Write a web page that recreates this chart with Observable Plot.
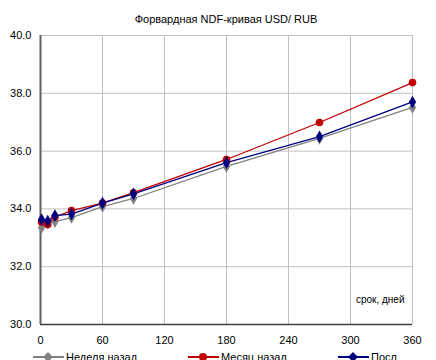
<!DOCTYPE html>
<html>
<head>
<meta charset="utf-8">
<script src="https://cdn.jsdelivr.net/npm/d3@7"></script>
<script src="https://cdn.jsdelivr.net/npm/@observablehq/plot@0.6"></script>
<style>
  html, body { margin: 0; padding: 0; background: #fff; overflow: hidden; }
  body { width: 436px; height: 360px; position: relative; font-family: "Liberation Sans", Arial, sans-serif; }
  #title { position: absolute; left: 40px; width: 372px; top: 13px; text-align: center; font-size: 11px; color: #000; }
  #chart { position: absolute; left: 0; top: 28px; }
  .leg { position: absolute; top: 350px; height: 14px; font-size: 11px; color: #000; display: flex; align-items: center; white-space: nowrap; }
  .leg svg { margin-right: 2px; }
</style>
</head>
<body>
<div id="title">Форвардная NDF-кривая USD/ RUB</div>
<div id="chart"></div>
<div id="legend"></div>
<script>
// Forward NDF curve USD/RUB: term in days vs forward rate
const days = [1, 7, 14, 30, 60, 90, 180, 270, 360];
const weekAgo  = [33.36, 33.50, 33.56, 33.70, 34.08, 34.36, 35.47, 36.44, 37.51];
const monthAgo = [33.55, 33.46, 33.72, 33.94, 34.20, 34.56, 35.71, 36.99, 38.37];
const latest   = [33.63, 33.58, 33.77, 33.82, 34.20, 34.52, 35.60, 36.50, 37.70];
const seriesNames = ["Неделя назад", "Месяц назад", "Посл"];
const seriesColors = ["#808080", "#c00000", "#000080"];
const seriesSymbols = ["diamond", "circle", "diamond"];
const xTicks = [0, 60, 120, 180, 240, 300, 360];
const yTicks = [30, 32, 34, 36, 38, 40];
const xLabel = "срок, дней";

const rows = [];
[weekAgo, monthAgo, latest].forEach((vals, i) => {
  vals.forEach((v, j) => rows.push({series: seriesNames[i], day: days[j], rate: v}));
});

const chart = Plot.plot({
  width: 436,
  height: 322,
  marginTop: 7,
  marginLeft: 40,
  marginRight: 24,
  marginBottom: 26,
  style: {fontFamily: "'Liberation Sans', Arial, sans-serif", fontSize: "11px", color: "#000"},
  x: {domain: [0, 360], ticks: xTicks, tickFormat: d => d, label: null},
  y: {domain: [30, 40], ticks: yTicks, tickFormat: d => d.toFixed(1), label: null},
  color: {domain: seriesNames, range: seriesColors},
  symbol: {domain: seriesNames, range: seriesSymbols},
  marks: [
    Plot.gridX(xTicks, {stroke: "#c0c0c0", strokeOpacity: 1, strokeWidth: 1}),
    Plot.gridY(yTicks, {stroke: "#c0c0c0", strokeOpacity: 1, strokeWidth: 1}),
    Plot.axisX({ticks: xTicks, tickSize: 0, tickPadding: 12, tickFormat: d => d}),
    Plot.axisY({ticks: yTicks, tickSize: 0, tickPadding: 9, tickFormat: d => d.toFixed(1)}),
    Plot.ruleY([30], {stroke: "#404040", strokeWidth: 1.5}),
    Plot.ruleX([0], {stroke: "#606060", strokeWidth: 2}),
    Plot.lineY(rows, {x: "day", y: "rate", z: "series", stroke: "series", strokeWidth: 1.3}),
    Plot.dot(rows, {x: "day", y: "rate", fill: "series", symbol: "series", r: 3.8, stroke: "none"}),
    Plot.text([{day: 360, rate: 30.85}], {x: "day", y: "rate", text: () => xLabel, textAnchor: "end", dx: -8, fontSize: 10})
  ]
});
document.getElementById("chart").appendChild(chart);

// Legend below the plot
const legendLeft = [33, 188, 338];
const legend = document.getElementById("legend");
seriesNames.forEach((name, i) => {
  const item = document.createElement("div");
  item.className = "leg";
  item.style.left = legendLeft[i] + "px";
  const shape = seriesSymbols[i] === "circle"
    ? `<circle cx="15" cy="7" r="4" fill="${seriesColors[i]}"/>`
    : `<path d="M15 2 L20 7 L15 12 L10 7 Z" fill="${seriesColors[i]}"/>`;
  item.innerHTML = `<svg width="31" height="14"><line x1="0" x2="31" y1="7" y2="7" stroke="${seriesColors[i]}" stroke-width="2"/>${shape}</svg><span>${name}</span>`;
  legend.appendChild(item);
});
</script>
</body>
</html>
